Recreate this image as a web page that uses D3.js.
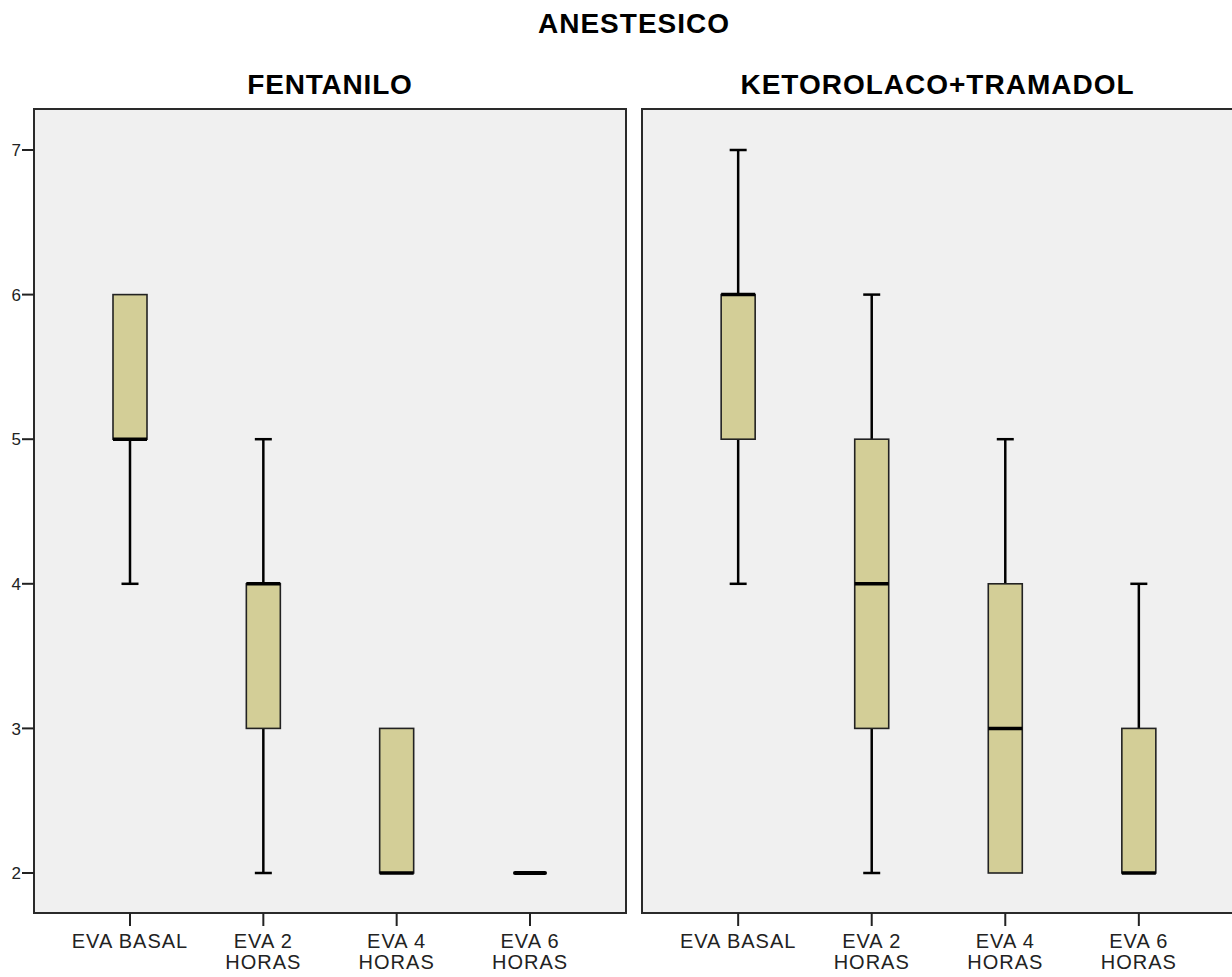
<!DOCTYPE html>
<html><head><meta charset="utf-8">
<script src="https://cdn.jsdelivr.net/npm/d3@7"></script>
<style>body{margin:0;background:#fff}svg{display:block}</style>
</head><body>
<svg id="c" width="1232" height="977"></svg>
<script>
const chartTitle = "ANESTESICO";
const panels = ["FENTANILO", "KETOROLACO+TRAMADOL"];
const categories = [["EVA BASAL"], ["EVA 2", "HORAS"], ["EVA 4", "HORAS"], ["EVA 6", "HORAS"]];
const yTicks = [2, 3, 4, 5, 6, 7];
// [min, q1, median, q3, max] per category
const fentaniloStats = [[4,5,5,6,6],[2,3,4,4,5],[2,2,2,3,3],[2,2,2,2,2]];
const ketorolacoStats = [[4,5,6,6,7],[2,3,4,5,6],[2,2,3,4,5],[2,2,2,3,4]];
const stats = [fentaniloStats, ketorolacoStats];

const svg = d3.select("#c");
const font = "'Liberation Sans', Arial, sans-serif";
const frameTop = 109, frameBottom = 913;
const panelX = [[34, 626], [642, 1235]];
const y = d3.scaleLinear().domain([2, 7]).range([873, 150]);

svg.append("text").attr("x", 634).attr("y", 33).attr("text-anchor", "middle")
  .attr("font-family", font).attr("font-weight", "bold").attr("font-size", 28)
  .attr("letter-spacing", 1).text(chartTitle);

panels.forEach((p, pi) => {
  const [x0, x1] = panelX[pi];
  const x = d3.scalePoint().domain(categories.map(c => c.join(" "))).range([x0, x1]).padding(0.72);
  const g = svg.append("g");
  g.append("rect").attr("x", x0).attr("y", frameTop).attr("width", x1 - x0).attr("height", frameBottom - frameTop)
    .attr("fill", "#f0f0f0").attr("stroke", "#2a2a2a").attr("stroke-width", 2);
  g.append("text").attr("x", (x0 + x1) / 2 + (pi === 1 ? -1 : 0)).attr("y", 94).attr("text-anchor", "middle")
    .attr("font-family", font).attr("font-weight", "bold").attr("font-size", 28)
    .attr("letter-spacing", pi === 1 ? 1 : 0.8).text(p);

  if (pi === 0) {
    const ya = g.append("g");
    yTicks.forEach(t => {
      ya.append("line").attr("x1", x0 - 12).attr("x2", x0).attr("y1", y(t)).attr("y2", y(t))
        .attr("stroke", "#222").attr("stroke-width", 2);
      ya.append("text").attr("x", x0 - 13).attr("y", y(t)).attr("dy", "0.36em").attr("text-anchor", "end")
        .attr("font-family", font).attr("font-size", 17).attr("fill", "#222").text(t);
    });
  }

  categories.forEach((c, ci) => {
    const cx = x(c.join(" "));
    g.append("line").attr("x1", cx).attr("x2", cx).attr("y1", frameBottom).attr("y2", frameBottom + 13)
      .attr("stroke", "#222").attr("stroke-width", 2);
    c.forEach((line, li) => {
      g.append("text").attr("x", cx).attr("y", 948 + li * 21).attr("text-anchor", "middle")
        .attr("font-family", font).attr("font-size", 20).attr("letter-spacing", 1).attr("fill", "#222").text(line);
    });
    const [mn, q1, md, q3, mx] = stats[pi][ci];
    const bw = 34, cw = 17;
    if (mx > q3) {
      g.append("line").attr("x1", cx).attr("x2", cx).attr("y1", y(mx)).attr("y2", y(q3)).attr("stroke", "#000").attr("stroke-width", 2.5);
      g.append("line").attr("x1", cx - cw/2).attr("x2", cx + cw/2).attr("y1", y(mx)).attr("y2", y(mx)).attr("stroke", "#000").attr("stroke-width", 2.5);
    }
    if (mn < q1) {
      g.append("line").attr("x1", cx).attr("x2", cx).attr("y1", y(q1)).attr("y2", y(mn)).attr("stroke", "#000").attr("stroke-width", 2.5);
      g.append("line").attr("x1", cx - cw/2).attr("x2", cx + cw/2).attr("y1", y(mn)).attr("y2", y(mn)).attr("stroke", "#000").attr("stroke-width", 2.5);
    }
    if (q3 > q1) {
      g.append("rect").attr("x", cx - bw/2).attr("y", y(q3)).attr("width", bw).attr("height", y(q1) - y(q3))
        .attr("fill", "#d3ce97").attr("stroke", "#222").attr("stroke-width", 1.6);
      g.append("line").attr("x1", cx - bw/2).attr("x2", cx + bw/2).attr("y1", y(md)).attr("y2", y(md))
        .attr("stroke", "#000").attr("stroke-width", 3.5);
    } else {
      g.append("line").attr("x1", cx - bw/2 + 2).attr("x2", cx + bw/2 - 2).attr("y1", y(md)).attr("y2", y(md))
        .attr("stroke", "#000").attr("stroke-width", 4).attr("stroke-linecap", "round");
    }
  });
});
</script>
</body></html>
